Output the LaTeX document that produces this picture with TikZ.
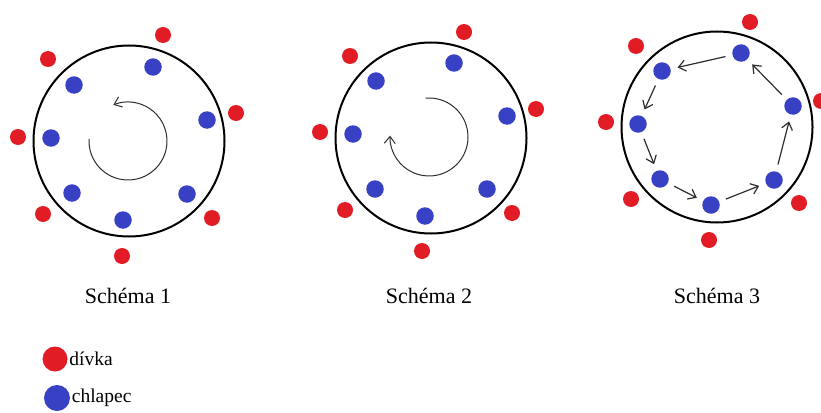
\documentclass[tikz,border=0pt]{standalone}
\usepackage{fontspec}
\setmainfont{Liberation Serif}
\usetikzlibrary{arrows.meta}
\definecolor{divka}{RGB}{226,28,36}
\definecolor{chlapec}{RGB}{56,64,196}
\definecolor{sipka}{RGB}{45,45,45}
\tikzset{
  girl/.style={circle, fill=divka, inner sep=0pt, minimum size=16pt},
  boy/.style={circle, fill=chlapec, inner sep=0pt, minimum size=17.5pt},
  ring/.style={circle, draw=black, line width=2pt, inner sep=0pt, minimum size=191pt},
  turn/.style={draw=sipka, line width=1pt, -{Straight Barb[length=7pt,width=11pt]}},
  move/.style={draw=sipka, line width=1.2pt, shorten >=7pt, shorten <=7pt, -{Straight Barb[length=7pt,width=11pt]}},
  schemalabel/.style={anchor=base, font=\fontsize{22}{26}\selectfont},
  legendtext/.style={anchor=west, inner sep=1.5pt, font=\fontsize{19.5}{23}\selectfont}
}

\begin{document}
\begin{tikzpicture}[x=1pt, y=-1pt]
      \useasboundingbox (0,0) rectangle (821,412);
      % Rings
      \node[ring] (ring1) at (129,141) {};
      \node[ring] (ring2) at (431,138) {};
      \node[ring] (ring3) at (717,127) {};
      % Schema 1
      \foreach \i/\x/\y in {1/163/35, 2/48/59, 3/236/113, 4/18/137, 5/43/214, 6/212/218, 7/122/256}{
          \node[girl] (s1r\i) at (\x,\y) {};
        }
      \foreach \i/\x/\y in {1/153/67, 2/74/85, 3/207/120, 4/51/138, 5/72/193, 6/187/194, 7/123/220}{
          \node[boy] (s1b\i) at (\x,\y) {};
        }
      \coordinate (c1) at (128,141);
      \draw[turn] ([shift={(183:39)}]c1) arc[start angle=183, end angle=-112, radius=39];
      \node[schemalabel] (lab1) at (128,303) {Schéma 1};
      % Schema 2
      \foreach \i/\x/\y in {1/464/32, 2/350/56, 3/536/109, 4/320/132, 5/345/210, 6/512/213, 7/422/251}{
          \node[girl] (s2r\i) at (\x,\y) {};
        }
      \foreach \i/\x/\y in {1/454/63, 2/376/81, 3/507/116, 4/353/134, 5/375/189, 6/487/189, 7/425/216}{
          \node[boy] (s2b\i) at (\x,\y) {};
        }
      \coordinate (c2) at (429,137);
      \draw[turn] ([shift={(-95:39)}]c2) arc[start angle=-95, end angle=182, radius=39];
      \node[schemalabel] (lab2) at (429,303) {Schéma 2};
      % Schema 3
      \foreach \i/\x/\y in {1/750/22, 2/636/46, 3/821/101, 4/606/122, 5/631/199, 6/799/203, 7/709/240}{
          \node[girl] (s3r\i) at (\x,\y) {};
        }
      \foreach \i/\x/\y in {1/741/53, 2/662/71, 3/638/124, 4/660/179, 5/711/205, 6/774/180, 7/793/106}{
          \node[boy] (s3b\i) at (\x,\y) {};
        }
      \foreach \a/\b in {1/2, 2/3, 3/4, 4/5, 5/6, 6/7, 7/1}{
          \draw[move] (s3b\a) -- (s3b\b);
        }
      \node[schemalabel] (lab3) at (717,303) {Schéma 3};
      % Legend
      \node[girl, minimum size=25pt] (legr) at (55,359) {};
      \node[legendtext] (legrt) at (legr.east) {dívka};
      \node[boy, minimum size=26pt] (legb) at (57,398) {};
      \node[legendtext] (legbt) at (legb.east) {chlapec};
    \end{tikzpicture}
\end{document}
